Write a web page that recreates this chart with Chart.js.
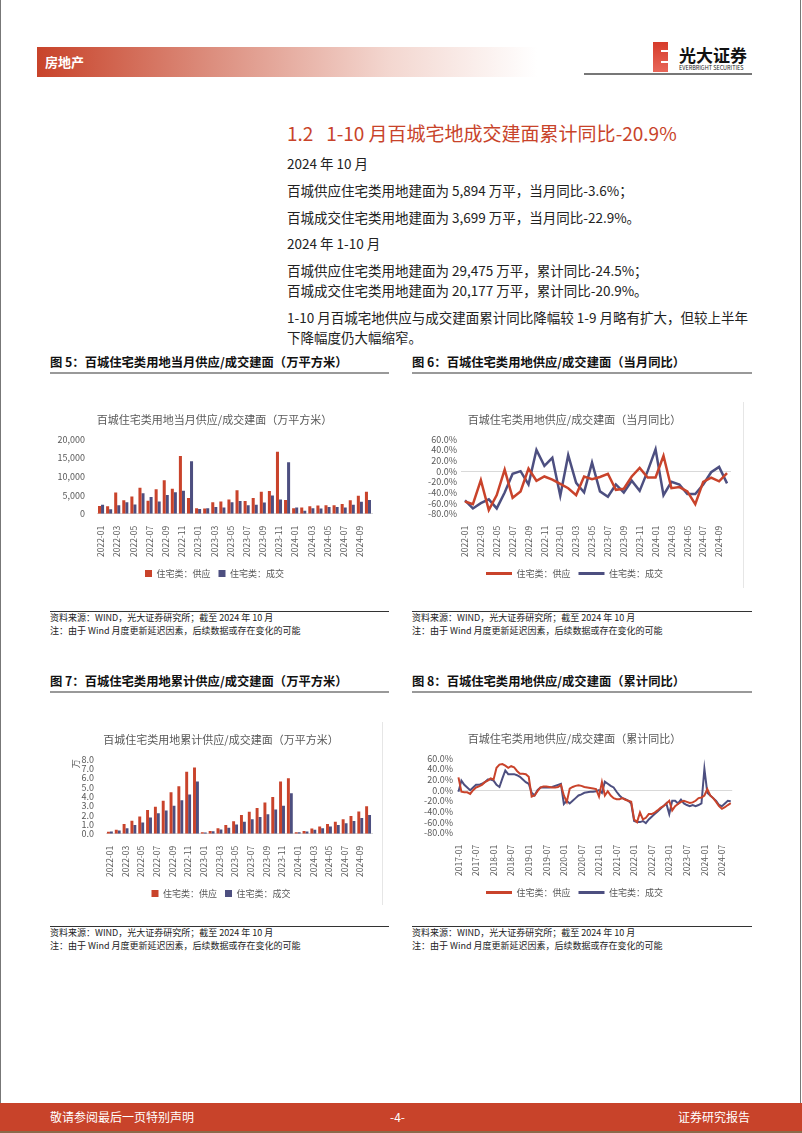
<!DOCTYPE html>
<html>
<head>
<meta charset="utf-8">
<script src="https://cdn.jsdelivr.net/npm/chart.js@4.4.1/dist/chart.umd.min.js"></script>
<style>
body { margin: 0; width: 802px; height: 1133px; position: relative; background: #fff; overflow: hidden;
       font-family: "Noto Sans CJK SC", "Noto Sans", sans-serif; color: #222; }
.abs { position: absolute; white-space: nowrap; }
.txt { font-size: 13.5px; line-height: 20px; left: 287px; }
.fig { font-size: 12.3px; line-height: 18px; font-weight: bold; color: #111; }
.src { font-size: 9px; line-height: 12px; color: #222; }
.rule { position: absolute; height: 0; }
canvas { position: absolute; }
</style>
</head>
<body>
<!-- page edges -->
<div class="abs" style="left:0;top:0;width:1px;height:1133px;background:#777"></div>
<div class="abs" style="left:800px;top:0;width:1px;height:1133px;background:#777"></div>

<!-- header -->
<div class="abs" style="left:37px;top:47px;width:500px;height:30px;background:linear-gradient(to right,#c8432a 0%,#dc8e7e 35%,#f3d6cf 70%,#fff 100%)"></div>
<div class="abs" style="left:45px;top:52px;font-size:13px;line-height:20px;font-weight:bold;color:#fff">房地产</div>
<div class="abs" style="left:653px;top:42px;width:15px;height:30px;background:linear-gradient(to bottom,#d63b2a,#e8675a)"></div>
<div class="abs" style="left:661px;top:50px;width:7px;height:2px;background:#fff"></div>
<div class="abs" style="left:661px;top:61px;width:7px;height:2px;background:#fff"></div>
<div class="abs" style="left:679px;top:44px;font-size:17px;line-height:22px;font-weight:bold;color:#111">光大证券</div>
<div class="abs" style="left:679px;top:65px;font-size:5.5px;line-height:7px;color:#222">EVERBRIGHT SECURITIES</div>
<div class="abs" style="left:584px;top:73px;width:168px;height:2px;background:#777"></div>

<!-- section text -->
<div class="abs" style="left:287px;top:120px;font-size:19px;line-height:26px;color:#c8432a">1.2&nbsp;&nbsp;&nbsp;1-10 月百城宅地成交建面累计同比-20.9%</div>
<div class="abs txt" style="top:153px">2024 年 10 月</div>
<div class="abs txt" style="top:180px">百城供应住宅类用地建面为 5,894 万平，当月同比-3.6%；</div>
<div class="abs txt" style="top:207px">百城成交住宅类用地建面为 3,699 万平，当月同比-22.9%。</div>
<div class="abs txt" style="top:233px">2024 年 1-10 月</div>
<div class="abs txt" style="top:260px">百城供应住宅类用地建面为 29,475 万平，累计同比-24.5%；</div>
<div class="abs txt" style="top:280px">百城成交住宅类用地建面为 20,177 万平，累计同比-20.9%。</div>
<div class="abs txt" style="top:307px">1-10 月百城宅地供应与成交建面累计同比降幅较 1-9 月略有扩大，但较上半年</div>
<div class="abs txt" style="top:327px">下降幅度仍大幅缩窄。</div>

<!-- figure headings -->
<div class="abs fig" style="left:50px;top:353px">图 5：百城住宅类用地当月供应/成交建面（万平方米）</div>
<div class="abs fig" style="left:412px;top:353px">图 6：百城住宅类用地供应/成交建面（当月同比）</div>
<div class="abs fig" style="left:50px;top:672px">图 7：百城住宅类用地累计供应/成交建面（万平方米）</div>
<div class="abs fig" style="left:412px;top:672px">图 8：百城住宅类用地供应/成交建面（累计同比）</div>
<div class="rule" style="left:50px;top:372px;width:339px;border-top:2px solid #999"></div>
<div class="rule" style="left:412px;top:372px;width:340px;border-top:2px solid #999"></div>
<div class="rule" style="left:50px;top:691px;width:339px;border-top:2px solid #999"></div>
<div class="rule" style="left:412px;top:691px;width:340px;border-top:2px solid #999"></div>

<!-- chart frames -->
<div class="abs" style="left:743px;top:402px;width:1px;height:186px;background:#e6e6e6"></div>
<div class="abs" style="left:382px;top:722px;width:1px;height:183px;background:#e6e6e6"></div>

<canvas id="c5" width="335" height="200" style="left:50px;top:398px"></canvas>
<canvas id="c6" width="335" height="200" style="left:410px;top:398px"></canvas>
<canvas id="c7" width="335" height="200" style="left:50px;top:718px"></canvas>
<canvas id="c8" width="335" height="200" style="left:410px;top:717px"></canvas>

<!-- sources -->
<div class="rule" style="left:50px;top:611px;width:339px;border-top:1px solid #333"></div>
<div class="rule" style="left:412px;top:611px;width:340px;border-top:1px solid #333"></div>
<div class="rule" style="left:50px;top:926px;width:339px;border-top:1px solid #333"></div>
<div class="rule" style="left:412px;top:926px;width:340px;border-top:1px solid #333"></div>
<div class="abs src" style="left:50px;top:612px">资料来源：WIND，光大证券研究所；截至 2024 年 10 月</div>
<div class="abs src" style="left:50px;top:625px">注：由于 Wind 月度更新延迟因素，后续数据或存在变化的可能</div>
<div class="abs src" style="left:412px;top:612px">资料来源：WIND，光大证券研究所；截至 2024 年 10 月</div>
<div class="abs src" style="left:412px;top:625px">注：由于 Wind 月度更新延迟因素，后续数据或存在变化的可能</div>
<div class="abs src" style="left:50px;top:927px">资料来源：WIND，光大证券研究所；截至 2024 年 10 月</div>
<div class="abs src" style="left:50px;top:940px">注：由于 Wind 月度更新延迟因素，后续数据或存在变化的可能</div>
<div class="abs src" style="left:412px;top:927px">资料来源：WIND，光大证券研究所；截至 2024 年 10 月</div>
<div class="abs src" style="left:412px;top:940px">注：由于 Wind 月度更新延迟因素，后续数据或存在变化的可能</div>

<!-- footer -->
<div class="abs" style="left:0;top:1103px;width:802px;height:28px;background:#c8432a"></div>
<div class="abs" style="left:0;top:1131px;width:802px;height:2px;background:#8a6a4a"></div>
<div class="abs" style="left:50px;top:1108px;font-size:12px;line-height:18px;color:#fff">敬请参阅最后一页特别声明</div>
<div class="abs" style="left:390px;top:1108px;font-size:12px;line-height:18px;color:#fff">-4-</div>
<div class="abs" style="left:678px;top:1108px;font-size:12px;line-height:18px;color:#fff">证券研究报告</div>

<script>
// 2022-01 ~ 2024-10
var months = ['2022-01','2022-02','2022-03','2022-04','2022-05','2022-06','2022-07','2022-08','2022-09','2022-10','2022-11','2022-12',
              '2023-01','2023-02','2023-03','2023-04','2023-05','2023-06','2023-07','2023-08','2023-09','2023-10','2023-11','2023-12',
              '2024-01','2024-02','2024-03','2024-04','2024-05','2024-06','2024-07','2024-08','2024-09','2024-10'];

// 图5 当月（万平方米）
var supplyMonth = [2100,2000,5700,3600,4600,7000,3500,6600,9000,6700,15500,4200,
                   1500,1400,3100,3300,3800,6300,3400,4200,5900,6100,16600,3700,
                   1500,1700,2000,2200,2300,2300,2600,3600,4800,5894];
var dealMonth   = [2400,1200,2300,3100,2500,5500,4500,3300,5000,5800,6200,14100,
                   1300,1500,1800,1700,3100,3400,2300,2400,3000,4900,3800,13800,
                   1700,800,1500,1400,1800,1800,1700,2400,3200,3699];

// 图6 当月同比（%）
var supplyYoy = [-57,-62,-17,-73,-45,3,-50,-38,5,-18,-10,-16,
                 -24,-32,-45,-10,-15,-11,-5,-35,-33,-10,6,-12,
                 -12,29,-32,-30,-38,-62,-20,-12,-19,-3.6];
var dealYoy   = [-55,-70,-60,-53,-70,-40,-5,0,-25,40,10,25,
                 -46,30,-22,-40,16,-38,-48,-25,-40,-18,-37,0,
                 41,-45,-20,-25,-43,-43,-25,-2,8,-22.9];

// 图7 累计（万 万平方米）
var supplyCum = [0.21,0.42,1.05,1.4,1.85,2.55,2.9,3.55,4.45,5.1,6.65,7.1,
                 0.15,0.3,0.6,0.95,1.35,2.0,2.35,2.75,3.35,3.95,5.6,5.95,
                 0.15,0.3,0.55,0.78,1.05,1.3,1.55,1.9,2.4,2.95];
var dealCum   = [0.24,0.36,0.6,0.95,1.2,1.75,2.2,2.5,3.0,3.6,4.2,5.6,
                 0.13,0.28,0.45,0.65,1.0,1.3,1.55,1.8,2.1,2.6,3.0,4.35,
                 0.17,0.25,0.42,0.6,0.78,0.95,1.12,1.38,1.7,2.02];

// 图8 累计同比（%），2017-01 ~ 2024-10
var supplyCumYoy = [24,-3,-4,-4,-7,0,5,7,10,15,18,22,
                    20,42,48,49,46,42,45,43,36,31,31,30,
                    25,-12,-10,-2,5,7,7,6,5,5,6,10,
                    -10,-22,3,6,8,9,8,6,5,4,3,2,
                    -12,15,-10,-2,-10,-15,-17,-17,-15,-18,-20,-22,
                    -55,-60,-42,-55,-52,-45,-45,-42,-38,-33,-30,-25,
                    -20,-38,-30,-26,-22,-20,-22,-24,-23,-20,-15,-14,
                    -10,2,-10,-15,-22,-30,-35,-32,-28,-24.5];
var dealCumYoy   = [-3,18,10,5,0,5,10,10,12,15,20,20,
                    18,10,6,22,37,30,30,30,28,25,20,15,
                    12,-5,-10,0,5,5,5,5,6,8,10,12,
                    -26,-20,-25,-20,-15,-10,-8,-5,-4,-3,-3,-2,
                    0,-5,16,12,8,5,-3,-10,-15,-17,-20,-25,
                    -58,-60,-60,-58,-62,-55,-50,-45,-40,-35,-30,-25,
                    -45,-20,-20,-25,-18,-25,-28,-30,-28,-30,-28,-25,
                    40,-5,-10,-15,-20,-28,-30,-25,-20,-20.9];

var months8 = [];
for (var y = 2017; y <= 2024; y++) {
    for (var m = 1; m <= 12; m++) {
        if (y === 2024 && m > 10) break;
        months8.push(y + '-' + (m < 10 ? '0' + m : m));
    }
}

// y 轴刻度
var ticksArea = [0, 5000, 10000, 15000, 20000];
var ticksPct  = [-80, -60, -40, -20, 0, 20, 40, 60];
var ticksCum  = [0, 1, 2, 3, 4, 5, 6, 7, 8];

var RED = '#c9432b';
var BLUE = '#4d4f80';
var GREY = '#595959';

Chart.defaults.font.family = '"Noto Sans CJK SC", "Noto Sans", sans-serif';
Chart.defaults.color = GREY;
Chart.defaults.animation = false;

function baseOptions(title, padLeft, padRight, yWidth, yTicks, lineLegend) {
    var legendLabels = { font: { size: 9 }, color: GREY, padding: 8 };
    if (lineLegend) {
        legendLabels.boxWidth = 26;
        legendLabels.boxHeight = 3;
        legendLabels.generateLabels = function(c) {
            return Chart.defaults.plugins.legend.labels.generateLabels(c).map(function(l) {
                l.lineWidth = 0; return l;
            });
        };
    } else {
        legendLabels.boxWidth = 7;
        legendLabels.boxHeight = 7;
    }
    return {
        responsive: false,
        devicePixelRatio: 1,
        layout: { padding: { left: padLeft, right: padRight, top: 0, bottom: 10 } },
        plugins: {
            title: { display: true, text: title, color: GREY, font: { size: 11, weight: 'normal' },
                     padding: { top: 15, bottom: 13 } },
            legend: { position: 'bottom', labels: legendLabels },
            tooltip: { enabled: false }
        },
        scales: {
            x: {
                grid: { display: false },
                border: { display: false },
                ticks: { autoSkip: false, maxRotation: 90, minRotation: 90, font: { size: 8.5 }, color: GREY, padding: 4 }
            },
            y: {
                min: yTicks[0],
                max: yTicks[yTicks.length - 1],
                afterFit: function(s) { s.width = yWidth; },
                afterBuildTicks: function(s) { s.ticks = yTicks.map(function(v) { return { value: v }; }); },
                border: { display: false },
                ticks: { autoSkip: false, font: { size: 9 }, color: GREY, padding: 4 }
            }
        }
    };
}

// 图5
var o5 = baseOptions('百城住宅类用地当月供应/成交建面（万平方米）', 7, 13, 40, ticksArea, false);
o5.scales.x.ticks.callback = function(v, i) { return i % 2 === 0 ? months[i] : ''; };
o5.scales.x.border = { display: true, color: '#d9d9d9' };
o5.scales.y.ticks.callback = function(v) { return v.toLocaleString('en-US'); };
o5.scales.y.grid = { display: false };
new Chart(document.getElementById('c5'), {
    type: 'bar',
    data: {
        labels: months,
        datasets: [
            { label: '住宅类：供应', data: supplyMonth, backgroundColor: RED, categoryPercentage: 0.75, barPercentage: 1 },
            { label: '住宅类：成交', data: dealMonth, backgroundColor: BLUE, categoryPercentage: 0.75, barPercentage: 1 }
        ]
    },
    options: o5
});

// 图6
var o6 = baseOptions('百城住宅类用地供应/成交建面（当月同比）', 8, 14, 43, ticksPct, true);
o6.scales.x.offset = true;
o6.scales.x.ticks.callback = function(v, i) { return i % 2 === 0 ? months[i] : ''; };
o6.scales.y.ticks.callback = function(v) { return v.toFixed(1) + '%'; };
o6.scales.y.grid = { drawTicks: false, color: function(c) { return c.tick && c.tick.value === 0 ? '#d9d9d9' : 'rgba(0,0,0,0)'; } };
new Chart(document.getElementById('c6'), {
    type: 'line',
    data: {
        labels: months,
        datasets: [
            { label: '住宅类：供应', data: supplyYoy, borderColor: RED, backgroundColor: RED, borderWidth: 2.5, pointRadius: 0, tension: 0 },
            { label: '住宅类：成交', data: dealYoy, borderColor: BLUE, backgroundColor: BLUE, borderWidth: 2.5, pointRadius: 0, tension: 0 }
        ]
    },
    options: o6
});

// 图7
var o7 = baseOptions('百城住宅类用地累计供应/成交建面（万平方米）', 20, 13, 36, ticksCum, false);
o7.scales.x.ticks.callback = function(v, i) { return i % 2 === 0 ? months[i] : ''; };
o7.scales.x.border = { display: true, color: '#d9d9d9' };
o7.scales.y.ticks.callback = function(v) { return v.toFixed(1); };
o7.scales.y.grid = { display: false };
o7.scales.y.title = { display: true, text: '万', align: 'end', color: GREY, font: { size: 9 }, padding: 0 };
new Chart(document.getElementById('c7'), {
    type: 'bar',
    data: {
        labels: months,
        datasets: [
            { label: '住宅类：供应', data: supplyCum, backgroundColor: RED, categoryPercentage: 0.75, barPercentage: 1 },
            { label: '住宅类：成交', data: dealCum, backgroundColor: BLUE, categoryPercentage: 0.75, barPercentage: 1 }
        ]
    },
    options: o7
});

// 图8
var o8 = baseOptions('百城住宅类用地供应/成交建面（累计同比）', 4, 10, 43, ticksPct, true);
o8.scales.x.offset = true;
o8.scales.x.ticks.callback = function(v, i) { return i % 6 === 0 ? months8[i] : ''; };
o8.scales.y.ticks.callback = function(v) { return v.toFixed(1) + '%'; };
o8.scales.y.grid = { drawTicks: false, color: function(c) { return c.tick && c.tick.value === 0 ? '#d9d9d9' : 'rgba(0,0,0,0)'; } };
new Chart(document.getElementById('c8'), {
    type: 'line',
    data: {
        labels: months8,
        datasets: [
            { label: '住宅类：供应', data: supplyCumYoy, borderColor: RED, backgroundColor: RED, borderWidth: 2, pointRadius: 0, tension: 0 },
            { label: '住宅类：成交', data: dealCumYoy, borderColor: BLUE, backgroundColor: BLUE, borderWidth: 2, pointRadius: 0, tension: 0 }
        ]
    },
    options: o8
});
</script>
</body>
</html>
